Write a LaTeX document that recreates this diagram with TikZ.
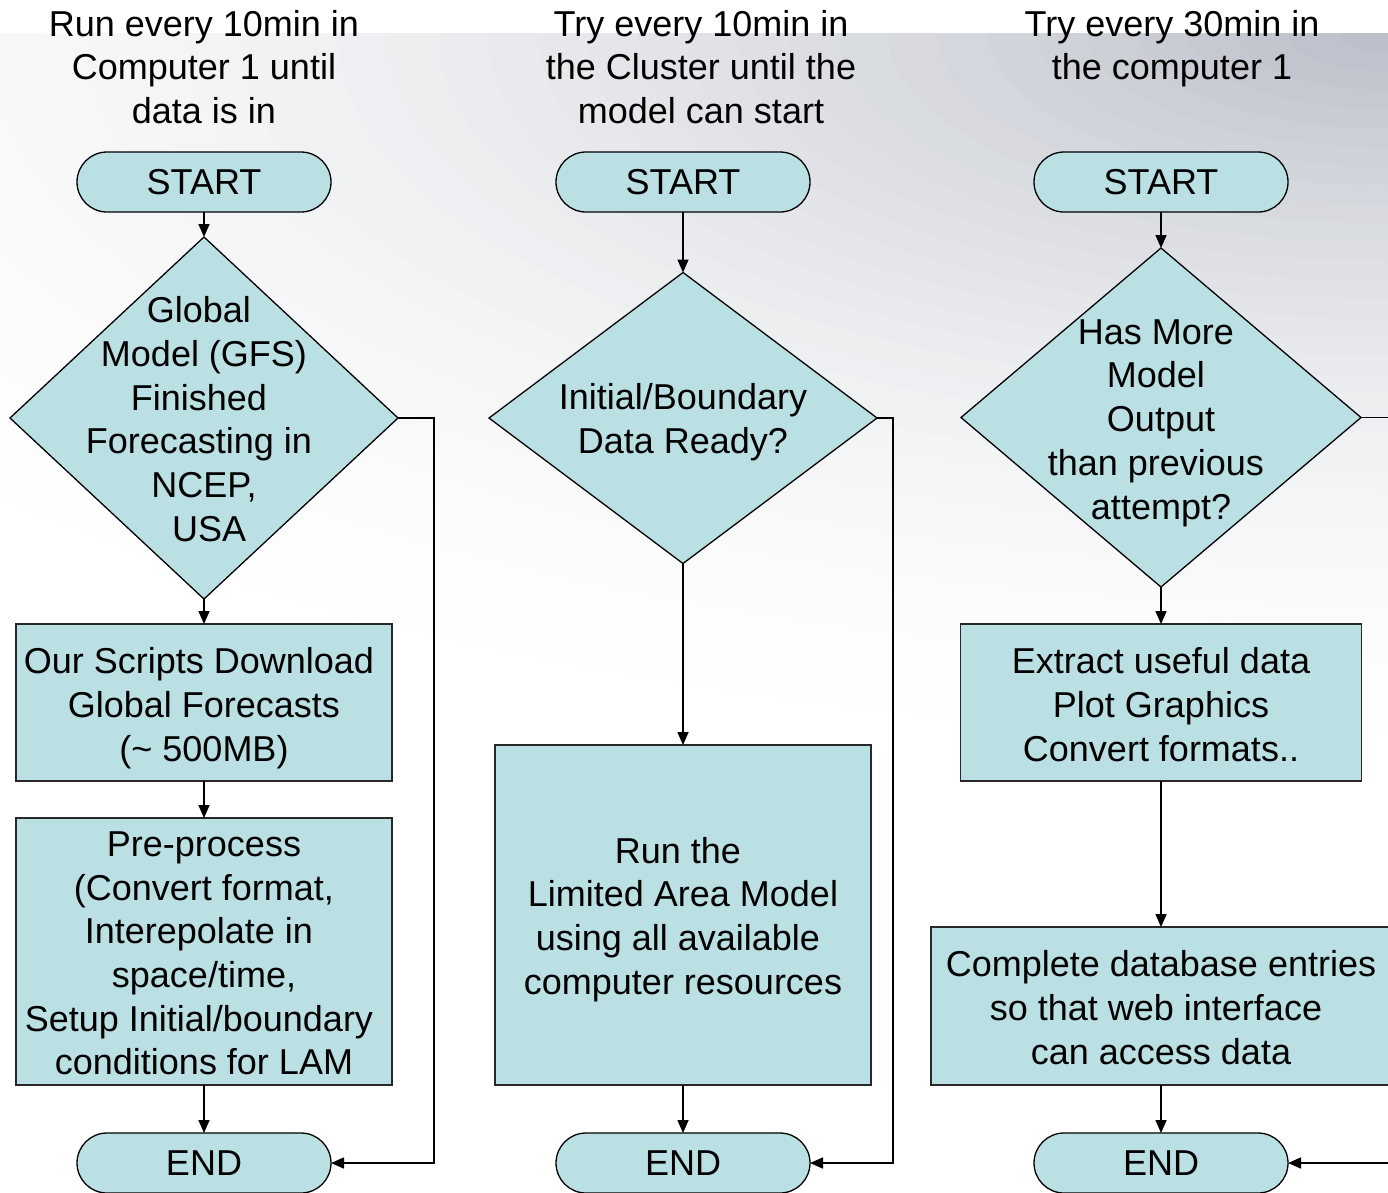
\documentclass[tikz,border=0pt]{standalone}
\usepackage{fontspec}
\setmainfont{Liberation Sans}
\usetikzlibrary{shapes.geometric, shapes.misc, arrows.meta, positioning}
\tikzset{>={Triangle[length=13pt,width=11pt]}}
\definecolor{boxfill}{RGB}{186,224,227}
\definecolor{bggray}{RGB}{188,192,202}
\definecolor{edgegray}{RGB}{40,40,40}
% trailing blank, keeps a line where the slide text had it
\newcommand{\tsp}{\hbox to .28em{}}
\tikzset{
  txt/.style={font=\fontsize{36}{43.7}\selectfont, align=center, inner sep=0},
  title/.style={txt, anchor=north},
  terminal/.style={txt, rounded rectangle, draw=black, line width=1.3pt, fill=boxfill,
    minimum width=254pt, minimum height=60pt, outer sep=0},
  decision/.style={diamond, draw=black, line width=1.3pt, fill=boxfill, inner sep=0, outer sep=0},
  process/.style={rectangle, draw=edgegray, line width=1.5pt, fill=boxfill, inner sep=0, outer sep=0},
  arrow/.style={->, line width=1.6pt}
}

\begin{document}
\begin{tikzpicture}[x=1pt, y=-1pt]
\useasboundingbox (0,0) rectangle (1388,1192);

% backdrop, grey glow from the upper right corner
\begin{scope}
  \clip (0,33) rectangle (1388,1192);
  \foreach \i in {40,39,...,1} {
    \pgfmathsetmacro\p{100*((41-\i)/40)^2}
    \fill[bggray!\p!white] (1388,33) ellipse[x radius=50*\i, y radius=19*\i];
  }
\end{scope}

% Computer 1: fetch and prepare the global forecast
\node[title] (t1) at (204,10) {Run every 10min in\\Computer 1 until\\data is in};
\node[terminal] (s1) at (204,182) {START};
\node[decision, minimum width=388pt, minimum height=362pt] (d1) at (204,418) {};
\node[txt] (d1txt) at (204,419) {Global\tsp\\Model (GFS)\\Finished\tsp\\Forecasting in\tsp\\NCEP,\\\tsp USA};
\node[process, minimum width=376pt, minimum height=157pt] (b1) at (204,702.5) {};
\node[txt] (b1txt) at (204,708) {Our Scripts Download\tsp\\Global Forecasts\\(\textasciitilde{} 500MB)};
\node[process, minimum width=376pt, minimum height=267pt] (b2) at (204,951.5) {};
\node[txt] (b2txt) at (204,953.5)
  {Pre-process\\(Convert format,\\Interepolate in\tsp\\space/time,\\Setup Initial/boundary\tsp\\conditions for LAM};
\node[terminal] (e1) at (204,1163) {END};

% Cluster: run the LAM
\node[title] (t2) at (701,10) {Try every 10min in\\the Cluster until the\\model can start};
\node[terminal] (s2) at (683,182) {START};
\node[decision, minimum width=388pt, minimum height=291pt] (d2) at (683,418) {};
\node[txt] (d2txt) at (683,422) {Initial/Boundary\\Data Ready?};
\node[process, minimum width=376pt, minimum height=340pt] (b3) at (683,915) {};
\node[txt] (b3txt) at (683,919.5) {Run the\tsp\\Limited Area Model\\using all available\tsp\\computer resources};
\node[terminal] (e2) at (683,1163) {END};

% Computer 1 again: post-processing
\node[title] (t3) at (1172,10) {Try every 30min in\\the computer 1};
\node[terminal] (s3) at (1161,182) {START};
\node[decision, minimum width=400pt, minimum height=339pt] (d3) at (1161,417.5) {};
\node[txt] (d3txt) at (1161,423) {Has More\tsp\\Model\tsp\\Output\\than previous\tsp\\attempt?};
\node[process, minimum width=401pt, minimum height=157pt] (b4) at (1161,702.5) {};
\node[txt] (b4txt) at (1161,704.5) {Extract useful data\\Plot Graphics\\Convert formats..};
\node[process, minimum width=460pt, minimum height=158pt] (b5) at (1161,1006) {};
\node[txt] (b5txt) at (1161,1007.5) {Complete database entries\\so that web interface\tsp\\can access data};
\node[terminal] (e3) at (1161,1163) {END};

% main flow
\foreach \a/\b in {s1/d1, d1/b1, b1/b2, b2/e1, s2/d2, d2/b3, b3/e2, s3/d3, d3/b4, b4/b5, b5/e3}
  \draw[arrow] (\a.south) -- (\b.north);

% "no" branches go straight to END
\draw[arrow] (d1.east) -- ++(36,0) |- (e1.east);
\draw[arrow] (d2.east) -- ++(16,0) |- (e2.east);
\draw[arrow] (d3.east) -- ++(60,0) |- (e3.east);

\end{tikzpicture}
\end{document}
